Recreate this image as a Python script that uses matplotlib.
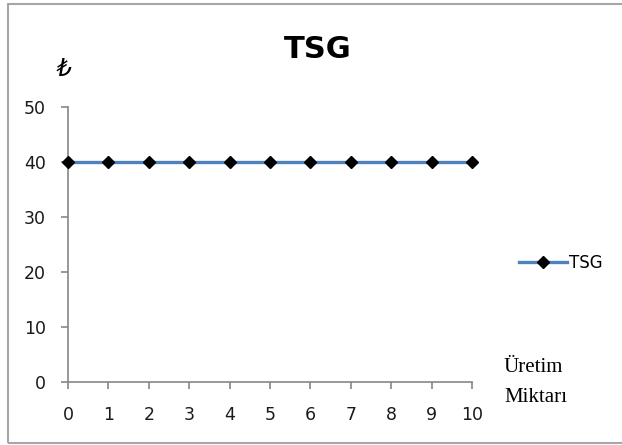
import matplotlib.pyplot as plt
import matplotlib.patches as mpatches

# Üretim miktarı ve toplam sabit gider
uretim = [0, 1, 2, 3, 4, 5, 6, 7, 8, 9, 10]
tsg = [40, 40, 40, 40, 40, 40, 40, 40, 40, 40, 40]
y_ticks = [0, 10, 20, 30, 40, 50]

AXIS_GREY = "#868686"
LINE_BLUE = "#4F81BD"

fig = plt.figure(figsize=(6.22, 4.45), dpi=100)
fig.patches.append(mpatches.Rectangle((8 / 622, 2 / 445), 1.0, 439 / 445,
                                      transform=fig.transFigure, fill=False,
                                      edgecolor="#A6A6A6", linewidth=1.5))

ax = fig.add_axes([68 / 622, 63 / 445, 404 / 622, 275 / 445])
ax.plot(uretim, tsg, color=LINE_BLUE, linewidth=2.4, marker="D",
        markersize=6, markerfacecolor="black", markeredgecolor="black",
        label="TSG", clip_on=False, zorder=3)

ax.set_xlim(0, 10)
ax.set_ylim(0, 50)
ax.set_xticks(uretim)
ax.set_yticks(y_ticks)
for side in ["top", "right"]:
    ax.spines[side].set_visible(False)
for side in ["left", "bottom"]:
    ax.spines[side].set_color(AXIS_GREY)
    ax.spines[side].set_linewidth(1.2)
ax.tick_params(axis="both", direction="out", length=5, width=1.2,
               color=AXIS_GREY, labelsize=12.5, labelcolor="#1a1a1a")
ax.tick_params(axis="x", pad=12)
ax.tick_params(axis="y", pad=11)

fig.text(318 / 622, 1 - 49 / 445, "TSG", ha="center", va="center",
         fontsize=22, fontweight="bold")
fig.text(64 / 622, 1 - 69 / 445, "₺", ha="center", va="center",
         fontsize=17, fontstyle="italic")
fig.text(504 / 622, 1 - 367 / 445, "Üretim", ha="left", va="center",
         fontsize=15, family="Liberation Serif")
fig.text(504 / 622, 1 - 397 / 445, "Miktarı", ha="left", va="center",
         fontsize=15, family="Liberation Serif")

fig.legend(loc="center left", bbox_to_anchor=(512 / 622, 1 - 263 / 445),
           frameon=False, fontsize=12, handlelength=2.9, handletextpad=0.1,
           borderaxespad=0)

fig.savefig("out.png", dpi=100)
